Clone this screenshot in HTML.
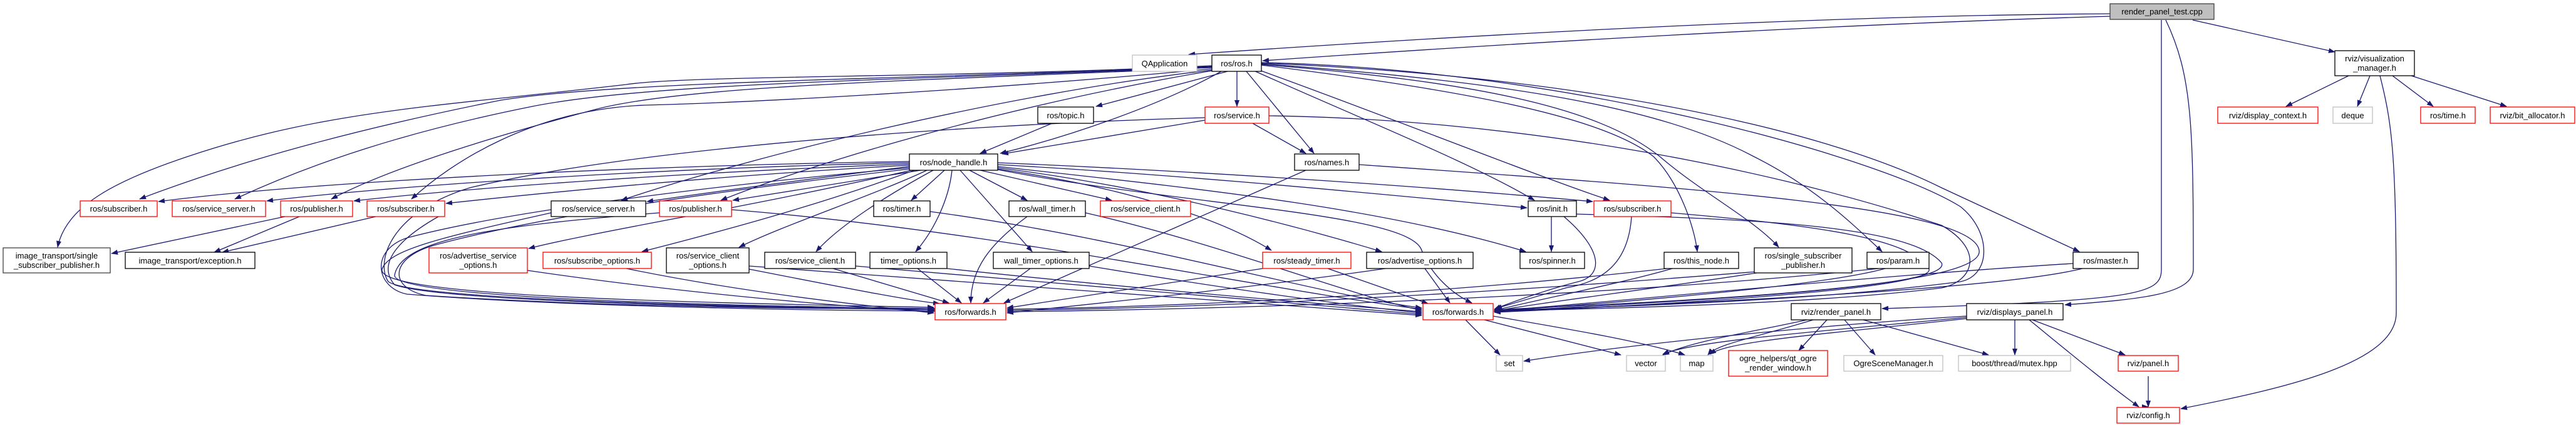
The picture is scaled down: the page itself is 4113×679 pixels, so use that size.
<!DOCTYPE html>
<html><head><meta charset="utf-8"><style>
html,body{margin:0;padding:0;background:#fff;}
svg{display:block;}
text{font-family:"Liberation Sans",sans-serif;font-size:13px;fill:#000;}
.e{fill:none;stroke:#191970;stroke-width:1.3;}
.b{fill:#fff;stroke:#000;stroke-width:1.3;}
.r{fill:#fff;stroke:#ff0000;stroke-width:1.3;}
.g{fill:#fff;stroke:#bfbfbf;stroke-width:1.3;}
</style></head><body>
<svg width="4113" height="679" viewBox="0 0 4113 679" xmlns="http://www.w3.org/2000/svg">
<defs><marker id="a" markerUnits="userSpaceOnUse" markerWidth="11" markerHeight="8" refX="10" refY="4" orient="auto"><path d="M0,0 L11,4 L0,8 z" fill="#191970"/></marker></defs>
<g class="e" marker-end="url(#a)">
<!-- root -->
<path d="M3369,22 C3000,24 2500,45 1898,87"/>
<path d="M3369,26 C2900,40 2400,70 2016,97"/>
<path d="M3501,32 L3728,83"/>
<path d="M3451,32 L3451,430 C3451,470 3420,480 3005,493"/>
<path d="M3458,32 C3500,120 3502,200 3502,430 C3502,470 3420,478 3297,487"/>
<!-- vis manager -->
<path d="M3750,121 L3650,170"/>
<path d="M3784,121 L3764,170"/>
<path d="M3820,121 L3885,170"/>
<path d="M3850,121 L4002,170"/>
<path d="M3800,121 C3820,200 3826,250 3826,500 C3826,580 3650,620 3482,653"/>
<!-- displays panel -->
<path d="M3217,511 L3217,567"/>
<path d="M3245,511 L3393,567"/>
<path d="M3240,511 C3300,560 3360,610 3415,650"/>
<path d="M3430,650 L3430,650"/>
<path d="M3430,601 L3430,650"/>
<path d="M3140,505 C2900,520 2600,550 2433,577"/>
<path d="M3140,507 C2900,530 2700,545 2655,566"/>
<path d="M3140,509 C2900,535 2760,545 2730,566"/>
<!-- render panel -->
<path d="M2885,511 C2800,530 2700,545 2655,567"/>
<path d="M2895,511 C2800,540 2740,550 2727,567"/>
<path d="M2917,511 L2872,560"/>
<path d="M2945,511 L2994,567"/>
<path d="M2975,511 L3175,567"/>
<!-- forwards right -->
<path d="M2340,511 L2395,567"/>
<path d="M2370,511 L2588,567"/>
<path d="M2384,505 C2500,525 2620,545 2690,567"/>
<!-- ros.h -->
<path d="M1960,114 L1750,170"/>
<path d="M1975,114 L1975,170"/>
<path d="M1950,114 C1850,170 1700,220 1597,245"/>
<path d="M1990,114 L2098,245"/>
<path d="M2000,112 C2150,180 2350,260 2450,320"/>
<path d="M2005,110 C2200,180 2450,280 2570,320"/>
<path d="M2014,104 C2300,140 2550,180 2640,250 C2680,290 2705,360 2710,402"/>
<path d="M2014,103 C2350,130 2550,170 2650,250 C2720,310 2800,350 2840,395"/>
<path d="M2014,102 C2400,130 2650,170 2800,250 C2900,300 2960,360 3005,402"/>
<path d="M2014,101 C2500,120 2900,200 3100,300 L3320,402"/>
<path d="M2014,100 C2500,110 3000,250 3130,330 C3180,370 3180,440 3130,450 C2900,480 2600,490 2386,496"/>
<path d="M1935,105 C1500,125 1100,120 1000,135 C700,170 520,176 300,250 C180,290 105,331 92,395"/>
<path d="M1935,106 C1500,126 1000,128 800,160 C600,200 400,250 223,318"/>
<path d="M1935,107 C1500,127 1050,130 850,170 C650,210 500,260 375,318"/>
<path d="M1935,108 C1500,128 1100,135 950,175 C780,220 620,270 529,318"/>
<path d="M1935,110 C1500,150 1150,165 1030,168 C850,175 720,260 657,318"/>
<path d="M1935,112 C1600,150 1200,250 992,320"/>
<path d="M1935,113 C1600,170 1300,260 1151,320"/>
<!-- service.h / topic.h -->
<path d="M1924,192 L1600,246"/>
<path d="M2000,197 L2085,245"/>
<path d="M1680,197 L1565,245"/>
<path d="M2026,185 C2400,190 2800,260 3100,360 C3170,400 3150,450 3100,460 C2900,485 2600,492 2386,497"/>
<path d="M1924,188 C1500,200 1000,240 750,300 C620,340 600,420 620,450 C660,480 1200,490 1493,495"/>
<!-- node_handle -->
<path d="M1452,258 C1000,265 500,290 253,322"/>
<path d="M1452,260 C1000,270 600,300 426,321"/>
<path d="M1452,262 C1100,275 750,300 565,321"/>
<path d="M1452,264 C1150,280 850,310 712,325"/>
<path d="M1452,266 C1300,285 1150,305 1033,322"/>
<path d="M1470,272 L1170,320"/>
<path d="M1455,272 C1200,330 950,370 844,397"/>
<path d="M1460,272 C1300,330 1150,370 1025,402"/>
<path d="M1480,272 C1400,310 1250,360 1180,395"/>
<path d="M1490,272 C1420,310 1340,360 1303,402"/>
<path d="M1508,272 L1455,320"/>
<path d="M1520,272 C1515,320 1490,370 1462,402"/>
<path d="M1548,272 L1640,320"/>
<path d="M1533,272 L1648,402"/>
<path d="M1565,272 L1775,320"/>
<path d="M1593,270 C1800,300 1950,350 2030,400"/>
<path d="M1593,268 C1850,300 2100,370 2206,402"/>
<path d="M1593,266 C1900,300 2200,330 2436,402"/>
<path d="M1593,263 C1900,280 2200,310 2438,332"/>
<path d="M1593,260 C1950,275 2300,300 2543,322"/>
<path d="M1593,271 C1900,330 2250,340 2270,400 C2285,440 2320,470 2350,484"/>
<path d="M1452,268 C1100,300 800,340 650,380 C590,400 600,460 650,470 C900,490 1300,496 1493,497"/>
<path d="M1452,270 C1100,310 850,350 700,390 C620,410 620,460 680,472 C950,490 1300,494 1493,493"/>
<!-- names -->
<path d="M2085,272 L1603,484"/>
<path d="M2170,263 C2700,300 3150,330 3160,400 C3170,460 2700,480 2386,495"/>
<!-- init, subscriber, etc -->
<path d="M2477,346 L2477,402"/>
<path d="M2497,346 C2560,400 2560,440 2520,450 C2480,460 2420,480 2386,494"/>
<path d="M2605,346 C2600,420 2560,450 2500,460 L2388,493"/>
<path d="M2517,342 C2800,350 3050,360 3100,420 C3120,460 2700,480 2386,498"/>
<path d="M2668,340 C2900,360 3050,380 3080,430 C3090,460 2700,485 2386,499"/>
<path d="M2670,429 C2600,450 2450,480 2386,496"/>
<path d="M2805,436 C2650,460 2450,485 2386,497"/>
<path d="M3010,429 C2900,460 2500,490 2386,497"/>
<path d="M3310,421 C3000,440 2600,480 2386,497"/>
<path d="M3325,429 C3200,460 2800,480 2386,498"/>
<path d="M2670,428 C2300,470 1900,490 1608,494"/>
<path d="M2805,434 C2300,475 1900,492 1608,496"/>
<path d="M3000,429 C2500,480 1900,495 1608,498"/>
<!-- left lower -->
<path d="M455,346 L178,405"/>
<path d="M478,346 L342,403"/>
<path d="M600,346 L355,403"/>
<path d="M880,340 C700,380 620,400 610,430 C600,470 1000,482 1491,491"/>
<path d="M1053,340 C800,360 640,380 630,440 C630,475 1100,488 1491,493"/>
<path d="M700,346 C640,380 600,420 630,455 C700,480 1100,490 1491,495"/>
<path d="M842,432 C1100,470 1350,490 1491,498"/>
<path d="M1000,429 C1200,470 1400,490 1491,500"/>
<path d="M1196,430 C1350,460 1450,480 1500,485"/>
<path d="M1330,429 L1515,484"/>
<path d="M1465,429 L1535,484"/>
<path d="M1645,429 L1570,484"/>
<path d="M1640,346 C1580,390 1550,430 1550,484"/>
<path d="M2016,429 L1608,492"/>
<path d="M2120,429 L2280,485"/>
<path d="M2275,429 L2315,484"/>
<path d="M2212,429 C2000,460 1700,490 1608,500"/>
<path d="M1485,338 C1800,380 2100,470 2270,492"/>
<path d="M1168,335 C1600,370 2000,460 2270,494"/>
<path d="M1733,340 C1950,390 2150,470 2270,496"/>
<path d="M1512,429 C1800,460 2100,485 2270,498"/>
<path d="M1739,425 C1950,460 2150,488 2270,500"/>
<path d="M1366,425 C1800,460 2100,488 2270,502"/>
<path d="M1196,425 C1700,460 2100,490 2270,504"/>
</g>
<!-- nodes -->
<g>
<rect x="3369" y="6" width="166" height="25" style="fill:#bfbfbf;stroke:#404040;stroke-width:1.3"/><text x="3452" y="23" text-anchor="middle">render_panel_test.cpp</text>
<rect class="g" x="1808" y="88" width="103" height="26"/><text x="1859.5" y="106" text-anchor="middle">QApplication</text>
<rect class="b" x="1935" y="88" width="79" height="26"/><text x="1974.5" y="106" text-anchor="middle">ros/ros.h</text>
<rect class="b" x="3728" y="81" width="127" height="40"/><text x="3791.5" y="98" text-anchor="middle">rviz/visualization</text><text x="3791.5" y="113" text-anchor="middle">_manager.h</text>
<rect class="b" x="1657" y="171" width="89" height="26"/><text x="1701.5" y="189" text-anchor="middle">ros/topic.h</text>
<rect class="r" x="1924" y="171" width="102" height="26"/><text x="1975" y="189" text-anchor="middle">ros/service.h</text>
<rect class="r" x="3541" y="171" width="160" height="26"/><text x="3621" y="189" text-anchor="middle">rviz/display_context.h</text>
<rect class="g" x="3725" y="171" width="63" height="26"/><text x="3756.5" y="189" text-anchor="middle">deque</text>
<rect class="r" x="3865" y="171" width="87" height="26"/><text x="3908.5" y="189" text-anchor="middle">ros/time.h</text>
<rect class="r" x="3976" y="171" width="135" height="26"/><text x="4043.5" y="189" text-anchor="middle">rviz/bit_allocator.h</text>
<rect class="b" x="1452" y="246" width="141" height="26"/><text x="1522.5" y="264" text-anchor="middle">ros/node_handle.h</text>
<rect class="b" x="2067" y="246" width="103" height="26"/><text x="2118.5" y="264" text-anchor="middle">ros/names.h</text>
<rect class="r" x="128" y="321" width="123" height="25"/><text x="189.5" y="338" text-anchor="middle">ros/subscriber.h</text>
<rect class="r" x="275" y="321" width="149" height="25"/><text x="349.5" y="338" text-anchor="middle">ros/service_server.h</text>
<rect class="r" x="448" y="321" width="115" height="25"/><text x="505.5" y="338" text-anchor="middle">ros/publisher.h</text>
<rect class="r" x="586" y="321" width="124" height="25"/><text x="648" y="338" text-anchor="middle">ros/subscriber.h</text>
<rect class="b" x="880" y="321" width="151" height="25"/><text x="955.5" y="338" text-anchor="middle">ros/service_server.h</text>
<rect class="r" x="1053" y="321" width="115" height="25"/><text x="1110.5" y="338" text-anchor="middle">ros/publisher.h</text>
<rect class="b" x="1395" y="321" width="90" height="25"/><text x="1440" y="338" text-anchor="middle">ros/timer.h</text>
<rect class="b" x="1611" y="321" width="122" height="25"/><text x="1672" y="338" text-anchor="middle">ros/wall_timer.h</text>
<rect class="r" x="1757" y="321" width="144" height="25"/><text x="1829" y="338" text-anchor="middle">ros/service_client.h</text>
<rect class="b" x="2440" y="321" width="77" height="25"/><text x="2478.5" y="338" text-anchor="middle">ros/init.h</text>
<rect class="r" x="2545" y="321" width="123" height="25"/><text x="2606.5" y="338" text-anchor="middle">ros/subscriber.h</text>
<rect x="5" y="396" width="171" height="40" style="fill:#fff;stroke:#404040;stroke-width:1.3"/><text x="90.5" y="413" text-anchor="middle">image_transport/single</text><text x="90.5" y="428" text-anchor="middle">_subscriber_publisher.h</text>
<rect class="b" x="200" y="403" width="207" height="26"/><text x="303.5" y="421" text-anchor="middle">image_transport/exception.h</text>
<rect class="r" x="685" y="396" width="157" height="40"/><text x="763.5" y="413" text-anchor="middle">ros/advertise_service</text><text x="763.5" y="428" text-anchor="middle">_options.h</text>
<rect class="r" x="867" y="403" width="173" height="26"/><text x="953.5" y="421" text-anchor="middle">ros/subscribe_options.h</text>
<rect class="b" x="1064" y="396" width="132" height="40"/><text x="1130" y="413" text-anchor="middle">ros/service_client</text><text x="1130" y="428" text-anchor="middle">_options.h</text>
<rect class="b" x="1221" y="403" width="145" height="26"/><text x="1293.5" y="421" text-anchor="middle">ros/service_client.h</text>
<rect class="b" x="1389" y="403" width="123" height="26"/><text x="1450.5" y="421" text-anchor="middle">timer_options.h</text>
<rect class="b" x="1586" y="403" width="153" height="26"/><text x="1662.5" y="421" text-anchor="middle">wall_timer_options.h</text>
<rect class="r" x="2016" y="403" width="141" height="26"/><text x="2086.5" y="421" text-anchor="middle">ros/steady_timer.h</text>
<rect class="b" x="2182" y="403" width="170" height="26"/><text x="2267" y="421" text-anchor="middle">ros/advertise_options.h</text>
<rect class="b" x="2427" y="403" width="103" height="26"/><text x="2478.5" y="421" text-anchor="middle">ros/spinner.h</text>
<rect class="b" x="2657" y="403" width="119" height="26"/><text x="2716.5" y="421" text-anchor="middle">ros/this_node.h</text>
<rect class="b" x="2801" y="396" width="156" height="40"/><text x="2879" y="413" text-anchor="middle">ros/single_subscriber</text><text x="2879" y="428" text-anchor="middle">_publisher.h</text>
<rect class="b" x="2981" y="403" width="99" height="26"/><text x="3030.5" y="421" text-anchor="middle">ros/param.h</text>
<rect class="b" x="3310" y="403" width="104" height="26"/><text x="3362" y="421" text-anchor="middle">ros/master.h</text>
<rect class="r" x="1493" y="485" width="113" height="26"/><text x="1549.5" y="503" text-anchor="middle">ros/forwards.h</text>
<rect class="r" x="2272" y="485" width="112" height="26"/><text x="2328" y="503" text-anchor="middle">ros/forwards.h</text>
<rect class="b" x="2860" y="485" width="143" height="26"/><text x="2931.5" y="503" text-anchor="middle">rviz/render_panel.h</text>
<rect class="b" x="3140" y="485" width="154" height="26"/><text x="3217" y="503" text-anchor="middle">rviz/displays_panel.h</text>
<rect class="g" x="2389" y="568" width="42" height="25"/><text x="2410" y="585" text-anchor="middle">set</text>
<rect class="g" x="2597" y="568" width="62" height="25"/><text x="2628" y="585" text-anchor="middle">vector</text>
<rect class="g" x="2683" y="568" width="52" height="25"/><text x="2709" y="585" text-anchor="middle">map</text>
<rect class="r" x="2760" y="560" width="158" height="41"/><text x="2839" y="577" text-anchor="middle">ogre_helpers/qt_ogre</text><text x="2839" y="592" text-anchor="middle">_render_window.h</text>
<rect class="g" x="2944" y="568" width="158" height="25"/><text x="3023" y="585" text-anchor="middle">OgreSceneManager.h</text>
<rect class="g" x="3127" y="568" width="179" height="25"/><text x="3216.5" y="585" text-anchor="middle">boost/thread/mutex.hpp</text>
<rect class="r" x="3382" y="568" width="96" height="25"/><text x="3430" y="585" text-anchor="middle">rviz/panel.h</text>
<rect class="r" x="3380" y="651" width="100" height="25"/><text x="3430" y="668" text-anchor="middle">rviz/config.h</text>
</g>
</svg>
</body></html>
